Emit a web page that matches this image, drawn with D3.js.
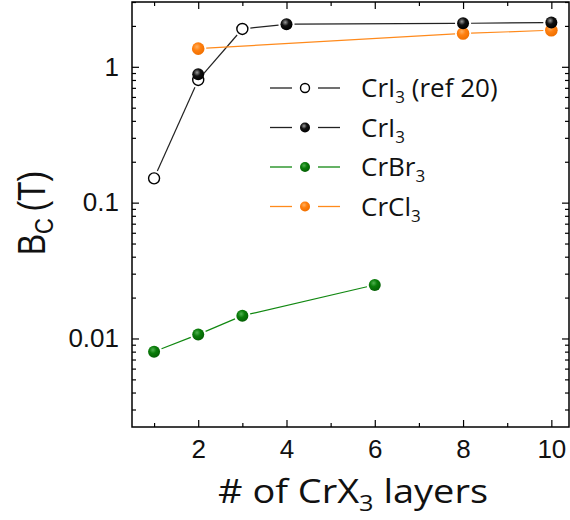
<!DOCTYPE html>
<html><head><meta charset="utf-8">
<script src="https://cdn.jsdelivr.net/npm/d3@7"></script>
<style>body{margin:0;background:#fff}</style>
</head><body>
<svg id="c" width="570" height="520"></svg>
<script>
// ---- data ----
const ref20X = [1, 2, 3];
const ref20Y = [0.151, 0.80, 1.90];
const cri3X = [2, 4, 8, 10];
const cri3Y = [0.88, 2.06, 2.09, 2.12];
const crbr3X = [1, 2, 3, 6];
const crbr3Y = [0.0080, 0.0107, 0.0147, 0.0248];
const crcl3X = [2, 8, 10];
const crcl3Y = [1.36, 1.76, 1.86];
const xMajorTicks = [2, 4, 6, 8, 10];
const xMinorTicks = [1, 3, 5, 7, 9];
const yMajorTicks = [0.01, 0.1, 1];
const yTickLabels = ["0.01", "0.1", "1"];
const legendLabels = [["CrI", "3", " (ref 20)"], ["CrI", "3", ""], ["CrBr", "3", ""], ["CrCl", "3", ""]];

const SANS = "Arial, 'Liberation Sans', Arimo, Helvetica, Roboto, sans-serif";
const svg = d3.select("#c");
const L = 132, R = 569, T = 2, B = 427;
const x = d3.scaleLinear().domain([0.5, 10.4]).range([L, R]);
const y = d3.scaleLog().domain([0.00223, 3.0]).range([B, T]);

const defs = svg.append("defs");
function grad(id, light, base, dark) {
  const g = defs.append("radialGradient").attr("id", id).attr("cx", "40%").attr("cy", "35%").attr("r", "65%");
  g.append("stop").attr("offset", "0%").attr("stop-color", light);
  g.append("stop").attr("offset", "45%").attr("stop-color", base);
  g.append("stop").attr("offset", "100%").attr("stop-color", dark);
}
grad("gBlack", "#9a9a9a", "#111", "#000");
grad("gGreen", "#4fb04f", "#0a7d0a", "#056005");
grad("gOrange", "#ffb060", "#ff8010", "#f07000");

const yMinor = [];
[0.001, 0.01, 0.1, 1].forEach(d => { for (let k = 2; k <= 9; k++) { const v = d * k; if (v >= 0.00223 && v <= 3.0) yMinor.push(v); } });

// ---- axes ----
const fmt = d => yTickLabels[yMajorTicks.indexOf(d)];
const axStyle = g => {
  g.attr("font-family", null).attr("font-size", null);
  g.selectAll(".domain").remove();
  g.selectAll("line").attr("stroke", "#000").attr("stroke-width", 1.2);
  g.selectAll("text").attr("fill", "#111").style("font-family", SANS).style("font-size", "26px");
};
svg.append("g").attr("transform", `translate(${L},0)`).call(d3.axisLeft(y).tickValues(yMajorTicks).tickFormat(fmt).tickSize(-7).tickPadding(13)).call(axStyle);
svg.append("g").attr("transform", `translate(${L},0)`).call(d3.axisLeft(y).tickValues(yMinor).tickFormat("").tickSize(-4)).call(axStyle);
svg.append("g").attr("transform", `translate(${R},0)`).call(d3.axisRight(y).tickValues(yMajorTicks).tickFormat("").tickSize(-7)).call(axStyle);
svg.append("g").attr("transform", `translate(${R},0)`).call(d3.axisRight(y).tickValues(yMinor).tickFormat("").tickSize(-4)).call(axStyle);
svg.append("g").attr("transform", `translate(0,${B})`).call(d3.axisBottom(x).tickValues(xMajorTicks).tickSize(-7).tickPadding(13)).call(axStyle);
svg.append("g").attr("transform", `translate(0,${B})`).call(d3.axisBottom(x).tickValues(xMinorTicks).tickFormat("").tickSize(-4)).call(axStyle);
svg.append("g").attr("transform", `translate(0,${T})`).call(d3.axisTop(x).tickValues(xMajorTicks).tickFormat("").tickSize(-7)).call(axStyle);
svg.append("g").attr("transform", `translate(0,${T})`).call(d3.axisTop(x).tickValues(xMinorTicks).tickFormat("").tickSize(-4)).call(axStyle);
svg.append("rect").attr("x", L).attr("y", T).attr("width", R - L).attr("height", B - T).attr("fill", "none").attr("stroke", "#000").attr("stroke-width", 1.5);

// ---- lines with gaps near markers ----
const GAP = 8;
function gappedLine(xs, ys, color) {
  const pts = xs.map((v, i) => [x(v), y(ys[i])]);
  for (let i = 0; i < pts.length - 1; i++) {
    const [x1, y1] = pts[i], [x2, y2] = pts[i + 1];
    const dx = x2 - x1, dy = y2 - y1, len = Math.hypot(dx, dy);
    if (len <= 2 * GAP) continue;
    const ux = dx / len, uy = dy / len;
    svg.append("line").attr("x1", x1 + ux * GAP).attr("y1", y1 + uy * GAP).attr("x2", x2 - ux * GAP).attr("y2", y2 - uy * GAP)
      .attr("stroke", color).attr("stroke-width", 1.2);
  }
}
// CrI3 curve: ref 20 points followed by the later CrI3 points
const tailX = cri3X.filter(v => v > d3.max(ref20X));
const tailY = cri3Y.filter((v, i) => cri3X[i] > d3.max(ref20X));
gappedLine(ref20X.concat(tailX), ref20Y.concat(tailY), "#222");
gappedLine(crcl3X, crcl3Y, "#ff8a1c");
gappedLine(crbr3X, crbr3Y, "#118811");

function markers(xs, ys, style) {
  svg.append("g").selectAll("circle").data(xs).join("circle")
    .attr("cx", d => x(d)).attr("cy", (d, i) => y(ys[i])).attr("r", style.r)
    .attr("fill", style.fill).attr("stroke", style.stroke).attr("stroke-width", style.sw);
}
const sOpen = { r: 5.5, fill: "#fff", stroke: "#000", sw: 1.4 };
const sBlack = { r: 6, fill: "url(#gBlack)", stroke: "none", sw: 0 };
const sGreen = { r: 6, fill: "url(#gGreen)", stroke: "none", sw: 0 };
const sOrange = { r: 6.3, fill: "url(#gOrange)", stroke: "none", sw: 0 };
markers(crcl3X, crcl3Y, sOrange);
markers(ref20X, ref20Y, sOpen);
markers(cri3X, cri3Y, sBlack);
markers(crbr3X, crbr3Y, sGreen);

// ---- legend ----
const legStyles = [[sOpen, "#222"], [sBlack, "#222"], [sGreen, "#118811"], [sOrange, "#ff8a1c"]];
const legY0 = 88, legDY = 39.5;
legendLabels.forEach((lab, i) => {
  const cy = legY0 + i * legDY;
  const [st, col] = legStyles[i];
  svg.append("line").attr("x1", 270).attr("x2", 292).attr("y1", cy).attr("y2", cy).attr("stroke", col).attr("stroke-width", 1.3);
  svg.append("line").attr("x1", 318).attr("x2", 340).attr("y1", cy).attr("y2", cy).attr("stroke", col).attr("stroke-width", 1.3);
  svg.append("circle").attr("cx", 305).attr("cy", cy).attr("r", i === 0 ? 4.5 : 5).attr("fill", st.fill).attr("stroke", st.stroke).attr("stroke-width", st.sw);
  const t = svg.append("text").attr("x", 361).attr("y", cy + 9).style("font-family", "'Open Sans', sans-serif").style("font-size", "26px").attr("fill", "#111");
  t.append("tspan").text(lab[0]);
  t.append("tspan").text(lab[1]).attr("dy", 6).style("font-size", "17px");
  if (lab[2]) t.append("tspan").text(lab[2]).attr("dy", -6);
});

// ---- axis titles ----
const xt = svg.append("text").attr("transform", "translate(353,503) scale(1.15,1)").attr("text-anchor", "middle").style("font-family", "'Open Sans', sans-serif").style("font-size", "33px").attr("fill", "#111");
xt.append("tspan").text("# of CrX");
xt.append("tspan").text("3").attr("dy", 8).style("font-size", "22px");
xt.append("tspan").text(" layers").attr("dy", -8);

const yt = svg.append("text").attr("transform", "translate(45,213) rotate(-90) scale(1,1.2)").attr("text-anchor", "middle").style("font-family", SANS).style("font-size", "32px").attr("fill", "#111");
yt.append("tspan").text("B");
yt.append("tspan").text("C").attr("dy", 7).style("font-size", "22px");
yt.append("tspan").text("\u2009(T)").attr("dy", -7);
</script>
</body></html>
